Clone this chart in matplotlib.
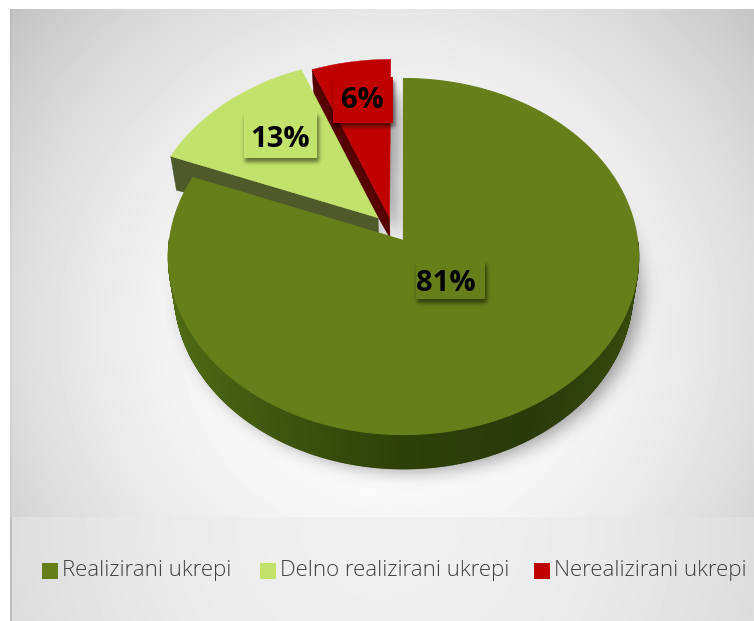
import numpy as np
import matplotlib
matplotlib.use('Agg')
import matplotlib.pyplot as plt
from matplotlib.collections import PolyCollection
from matplotlib.path import Path
from matplotlib.patches import Polygon, Rectangle

categories = ['Realizirani ukrepi', 'Delno realizirani ukrepi', 'Nerealizirani ukrepi']
values = [81, 13, 6]

top_colors = ['#667f1a', '#c2e26b', '#c00000']
wall_colors = [None, '#4f5a2b', '#560000']
# how far each slice is pulled out of the pie, in plane units
pull_u = [0.0, -0.11, -0.06]
pull_v = [0.0, 0.13, 0.13]
label_pos = [(445, 283), (280, 139), (362, 100)]
label_box = [(415, 259, 69, 39), (243, 111, 73, 46), (332, 76, 60, 46)]
legend_box_x = [41, 259, 533]
legend_text_x = [62, 280, 553]

W, H = 754, 621
CX, CY = 403, 240
RX, RY, K = 234, 176.6, 0.09


def project(u, v, drop=False):
    """Tilted pie plane to pixels, far side squeezed."""
    u = np.asarray(u, dtype=float)
    v = np.asarray(v, dtype=float)
    w = 1 + K * v
    x = RX * u / w
    y = RY * v / w
    if not drop:
        return CX + x, CY - y
    r = np.minimum(np.hypot(u, v), 1.0)
    return CX + x * 0.975, CY - y + 18 + 16 * r


def slice_plane(start, end, du, dv):
    t = np.radians(np.linspace(start, end, 160))
    u = np.concatenate([[du], du + np.sin(t)])
    v = np.concatenate([[dv], dv + np.cos(t)])
    return u, v


def background(ax):
    yy, xx = np.mgrid[0:H, 0:W]
    d = np.hypot(xx - 390, yy - 330)
    upper = 255 - 59 * (d / 490) ** 2
    d2 = np.hypot(xx - 380, yy - 517)
    lower = 240 - 22 * (d2 / 400) ** 2
    img = np.where(yy < 517, upper, lower)
    img[:9, :] = 255
    img[:, :10] = 255
    img[9:517, 10:12] -= 8
    img[517:, 10:12] = 190
    img[517:, 12:] = lower[517:, 12:]
    img = np.clip(img, 0, 255) / 255
    ax.imshow(img, cmap='gray', vmin=0, vmax=1, extent=(-0.5, W - 0.5, H - 0.5, -0.5),
              interpolation='nearest', zorder=0, aspect='auto')


def blur(mask, sigma):
    n = int(sigma * 3)
    kernel = np.exp(-0.5 * (np.arange(-n, n + 1) / sigma) ** 2)
    kernel /= kernel.sum()
    out = np.apply_along_axis(lambda m: np.convolve(m, kernel, mode='same'), 0, mask)
    out = np.apply_along_axis(lambda m: np.convolve(m, kernel, mode='same'), 1, out)
    return out


def soft_shadow(ax, xs, ys, sigma, alpha, zorder=1):
    yy, xx = np.mgrid[0:H, 0:W]
    pts = np.column_stack([xx.ravel(), yy.ravel()])
    mask = Path(np.column_stack([xs, ys])).contains_points(pts).reshape(H, W).astype(float)
    rgba = np.zeros((H, W, 4))
    rgba[..., 3] = blur(mask, sigma) * alpha
    ax.imshow(rgba, extent=(-0.5, W - 0.5, H - 0.5, -0.5), interpolation='bilinear',
              zorder=zorder, aspect='auto')


fig = plt.figure(figsize=(W / 100, H / 100), dpi=100)
ax = fig.add_axes([0, 0, 1, 1])
background(ax)

total = sum(values)
edges = np.concatenate([[0], np.cumsum(values)]) / total * 360

# shadows under the pie
green_u, green_v = slice_plane(edges[0], edges[1], 0, 0)
sx, sy = project(green_u, green_v, drop=True)
soft_shadow(ax, sx + 8, sy + 2, 9, 0.38)
for i in (1, 2):
    u, v = slice_plane(edges[i], edges[i + 1], pull_u[i], pull_v[i])
    sx, sy = project(u, v, drop=True)
    soft_shadow(ax, sx + 8, sy + 2, 7, 0.35)

# red first, then light green, main slice on top
z = 2
for i in (2, 1):
    u, v = slice_plane(edges[i], edges[i + 1], pull_u[i], pull_v[i])
    tx, ty = project(u, v)
    bx, by = project(u, v, drop=True)
    # the cut face on the left side of the slice
    ax.add_patch(Polygon([(tx[1], ty[1]), (tx[0], ty[0]), (bx[0], by[0]), (bx[1], by[1])],
                         closed=True, fc=wall_colors[i], ec=wall_colors[i], lw=0.3, zorder=z))
    ax.add_patch(Polygon(np.column_stack([tx, ty]), closed=True, fc=top_colors[i],
                         ec=top_colors[i], lw=0.3, zorder=z + 0.5))
    z += 1

# main slice side, shaded along the rim, only the near part shows
t = np.radians(np.linspace(edges[0], edges[1], 500))
ru, rv = np.sin(t), np.cos(t)
tx, ty = project(ru, rv)
bx, by = project(ru, rv, drop=True)
near = [j for j in range(len(t) - 1) if rv[j] < 0.0]
quads = [[(tx[j], ty[j]), (tx[j + 1], ty[j + 1]), (bx[j + 1], by[j + 1]), (bx[j], by[j])]
         for j in near]
stops_u = [-1, -0.5, 0, 0.5, 1]
stops_rgb = np.array([[0x52, 0x6c, 0x14], [0x3f, 0x55, 0x0f], [0x2e, 0x40, 0x09],
                      [0x2a, 0x3a, 0x0a], [0x38, 0x4b, 0x0e]]) / 255
side = np.column_stack([np.interp(ru[near], stops_u, stops_rgb[:, c]) for c in range(3)])
ax.add_collection(PolyCollection(quads, facecolors=side, edgecolors=side, linewidths=1.2, zorder=z))
u, v = slice_plane(edges[0], edges[1], 0, 0)
tx, ty = project(u, v)
ax.add_patch(Polygon(np.column_stack([tx, ty]), closed=True, fc=top_colors[0],
                     ec=top_colors[0], lw=0.8, zorder=z + 0.5))

# data labels with a soft shadowed box in slice colour
label_zorder = z + 1
for i, val in enumerate(values):
    lx, ly = label_pos[i]
    x0, y0, bw, bh = label_box[i]
    soft_shadow(ax, [x0 + 2, x0 + bw + 2, x0 + bw + 2, x0 + 2],
                [y0 + 4, y0 + 4, y0 + bh + 4, y0 + bh + 4], 2, 0.5, zorder=label_zorder)
    ax.add_patch(Rectangle((x0, y0), bw, bh, fc=top_colors[i], ec='none', zorder=label_zorder + 0.1))
    ax.text(lx, ly, f'{val}%', ha='center', va='center', fontsize=21, fontweight='bold',
            family='Open Sans', color='black', zorder=label_zorder + 0.2)

# legend
for i, name in enumerate(categories):
    ax.add_patch(Rectangle((legend_box_x[i], 562), 16, 16, fc=top_colors[i], ec='none', zorder=20))
    ax.text(legend_text_x[i], 570, name, ha='left', va='center', fontsize=16, family='Open Sans',
            fontweight='light', color='#404040', zorder=20)

ax.set_xlim(-0.5, W - 0.5)
ax.set_ylim(H - 0.5, -0.5)
ax.axis('off')
fig.savefig('out.png', dpi=100)
